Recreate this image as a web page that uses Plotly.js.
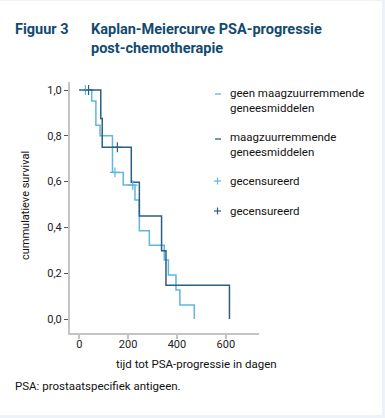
<!DOCTYPE html>
<html>
<head>
<meta charset="utf-8">
<script src="https://cdn.plot.ly/plotly-3.0.1.min.js"></script>
<style>
html,body{margin:0;padding:0;background:#eef3fa;}
#chart{position:absolute;left:0;top:1px;width:382px;height:414px;background:#fff;}
</style>
</head>
<body>
<div id="chart"></div>
<script>
// Data
const lightDays = [0, 51, 68, 85, 136, 180, 228, 246, 287, 348, 365, 396, 412, 471];
const lightSurv = [1.0, 0.952, 0.846, 0.80, 0.64, 0.585, 0.52, 0.386, 0.322, 0.258, 0.192, 0.127, 0.061, 0];
const darkDays = [0, 88, 94, 213, 246, 337, 355, 615];
const darkSurv = [1.0, 0.876, 0.75, 0.597, 0.45, 0.298, 0.147, 0];
const lightCensDays = [25, 146, 219];
const lightCensSurv = [1.0, 0.64, 0.585];
const darkCensDays = [38, 156];
const darkCensSurv = [1.0, 0.75];
const xTicks = [0, 200, 400, 600];
const yTicks = [0, 0.2, 0.4, 0.6, 0.8, 1.0];
const legendLabels = ['geen maagzuurremmende<br>geneesmiddelen', 'maagzuurremmende<br>geneesmiddelen', 'gecensureerd', 'gecensureerd'];

const LIGHT = '#5fb6de';
const DARK = '#2c5f7f';
const W = 382, H = 414;
const M = {l: 70, r: W - 259, t: 81, b: H - 332};
const PW = W - M.l - M.r, PH = H - M.t - M.b;
const px = x => (x - M.l) / PW;
function pyy(y){ return (M.t + PH - (y - 1)) / PH; }

const traces = [
  {x: lightDays, y: lightSurv, type: 'scatter', mode: 'lines', line: {shape: 'hv', color: LIGHT, width: 1.5}, hoverinfo: 'skip'},
  {x: darkDays, y: darkSurv, type: 'scatter', mode: 'lines', line: {shape: 'hv', color: DARK, width: 1.5}, hoverinfo: 'skip'},
  {x: lightCensDays, y: lightCensSurv, type: 'scatter', mode: 'markers', marker: {symbol: 'cross-thin', size: 7, line: {color: LIGHT, width: 1.2}}, hoverinfo: 'skip'},
  {x: darkCensDays, y: darkCensSurv, type: 'scatter', mode: 'markers', marker: {symbol: 'cross-thin', size: 7, line: {color: DARK, width: 1.2}}, hoverinfo: 'skip'}
];

const FONT = 'Roboto, "Open Sans", sans-serif';
const legY = [[94, 100], [139, 144], [181, 181], [211, 211]];
const legColors = [LIGHT, DARK, LIGHT, DARK];
const annotations = [];
const shapes = [];
legendLabels.forEach((t, i) => {
  annotations.push({xref: 'paper', yref: 'paper', x: px(228), y: pyy(legY[i][1]), text: t, showarrow: false,
    xanchor: 'left', yanchor: 'middle', align: 'left', font: {family: FONT, size: 11.5, color: '#111'}});
  if (i < 2) {
    shapes.push({type: 'line', xref: 'paper', yref: 'paper', x0: px(215), x1: px(221), y0: pyy(legY[i][0]), y1: pyy(legY[i][0]), line: {color: legColors[i], width: 1.3}});
  } else {
    shapes.push({type: 'line', xref: 'paper', yref: 'paper', x0: px(214), x1: px(221), y0: pyy(legY[i][0]), y1: pyy(legY[i][0]), line: {color: legColors[i], width: 1.2}});
    shapes.push({type: 'line', xref: 'paper', yref: 'paper', x0: px(217.5), x1: px(217.5), y0: pyy(legY[i][0] - 3.5), y1: pyy(legY[i][0] + 3.5), line: {color: legColors[i], width: 1.2}});
  }
});
annotations.push({xref: 'paper', yref: 'paper', x: px(196), y: pyy(364), text: 'tijd tot PSA-progressie in dagen', showarrow: false,
  xanchor: 'center', yanchor: 'middle', font: {family: FONT, size: 11.5, color: '#111'}});
annotations.push({xref: 'paper', yref: 'paper', x: px(25), y: pyy(206), text: 'cummulatieve survival', showarrow: false, textangle: -90,
  xanchor: 'center', yanchor: 'middle', font: {family: FONT, size: 11, color: '#111'}});
annotations.push({xref: 'paper', yref: 'paper', x: px(13), y: pyy(386), text: 'PSA: prostaatspecifiek antigeen.', showarrow: false,
  xanchor: 'left', yanchor: 'middle', font: {family: FONT, size: 11.5, color: '#111'}});
annotations.push({xref: 'paper', yref: 'paper', x: px(13), y: pyy(30), text: '<b>Figuur 3</b>', showarrow: false,
  xanchor: 'left', yanchor: 'middle', font: {family: FONT, size: 14.5, color: '#124a70'}});
annotations.push({xref: 'paper', yref: 'paper', x: px(89), y: pyy(39), text: '<b>Kaplan-Meiercurve PSA-progressie<br>post-chemotherapie</b>', showarrow: false,
  xanchor: 'left', yanchor: 'middle', align: 'left', font: {family: FONT, size: 14.5, color: '#124a70'}});

const layout = {
  width: W, height: H,
  margin: M,
  paper_bgcolor: '#fff', plot_bgcolor: '#fff',
  showlegend: false,
  separators: ', ',
  font: {family: FONT, size: 11, color: '#222'},
  xaxis: {range: [-38, 736], tickvals: xTicks, ticktext: xTicks.map(String), showgrid: false, zeroline: false,
    showline: true, linecolor: '#c4c4c4', linewidth: 2, ticks: 'outside', ticklen: 4, tickwidth: 2, tickcolor: '#c4c4c4',
    ticklabelstandoff: -4,
    tickfont: {family: FONT, size: 11, color: '#222'}},
  yaxis: {range: [-0.061, 1.035], tickvals: yTicks, tickformat: '.1f', showgrid: false, zeroline: false,
    showline: true, linecolor: '#c4c4c4', linewidth: 2, ticks: 'outside', ticklen: 4, tickwidth: 1, tickcolor: '#555',
    tickfont: {family: FONT, size: 11, color: '#222'}},
  annotations: annotations,
  shapes: shapes
};
Plotly.newPlot('chart', traces, layout, {staticPlot: true, displayModeBar: false});
</script>
</body>
</html>
